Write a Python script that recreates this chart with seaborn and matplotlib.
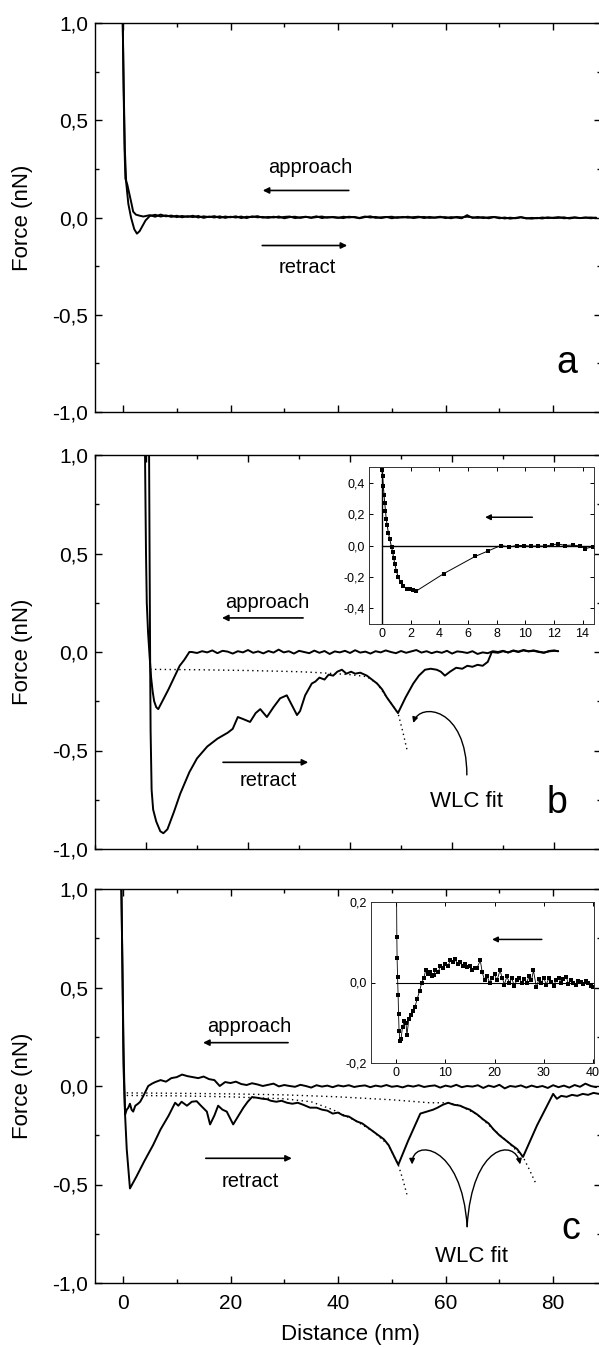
import matplotlib
matplotlib.use("Agg")
import matplotlib.pyplot as plt
import seaborn as sns
import numpy as np
from matplotlib.ticker import MultipleLocator, FixedLocator, FuncFormatter
from matplotlib.patches import FancyArrowPatch
from matplotlib.path import Path

sns.set_theme(style="ticks")
plt.rcParams['font.family'] = ['Liberation Sans', 'DejaVu Sans']
plt.rcParams['axes.edgecolor'] = 'black'
plt.rcParams['axes.labelcolor'] = 'black'
plt.rcParams['text.color'] = 'black'
plt.rcParams['xtick.color'] = 'black'
plt.rcParams['ytick.color'] = 'black'

# ---------------- panel a ----------------
a_app_x = [-0.05, 0.1, 0.3, 0.45, 0.8, 1.2, 1.6, 1.9, 2.4, 3.0, 3.8]
a_app_y = [1.02, 0.7, 0.35, 0.2, 0.17, 0.12, 0.07, 0.03, 0.015, 0.01, 0.005]
a_ret_x = [-0.05, 0.15, 0.35, 0.6, 1.0, 1.5, 2.1, 2.6, 3.1, 3.6, 4.2]
a_ret_y = [1.02, 0.65, 0.35, 0.18, 0.07, 0.0, -0.06, -0.083, -0.07, -0.045, -0.015]
# noisy baseline, 1 nm steps from 5 nm
a_app_tail = [0.012, 0.004, 0.015, 0.006, 0.010, 0.002, 0.008, 0.003, 0.009, 0.000, 0.006, 0.002,
              0.007, -0.002, 0.005, 0.001, 0.006, -0.003, 0.004, 0.002, 0.007, -0.001, 0.003, 0.000,
              0.005, -0.004, 0.002, 0.004, -0.002, 0.003, 0.000, 0.006, -0.003, 0.002, 0.001, -0.002,
              0.004, 0.000, 0.003, -0.004, 0.002, 0.006, -0.002, 0.001, 0.003, -0.004, 0.002, 0.000,
              0.004, -0.003, 0.001, 0.003, -0.002, 0.000, 0.004, -0.003, 0.002, 0.000, -0.004, 0.012,
              -0.002, 0.003, -0.003, 0.001, 0.003, -0.004, 0.000, -0.006, -0.002, 0.002, -0.005, -0.002,
              -0.004, 0.000, -0.003, -0.001, 0.002, -0.004, -0.002, 0.001, -0.003, -0.001, 0.000, -0.002]
a_ret_tail = [0.008, 0.014, 0.005, 0.011, 0.003, 0.009, 0.001, 0.007, 0.002, 0.008, -0.002, 0.005,
              0.000, 0.006, -0.002, 0.004, 0.000, 0.005, -0.003, 0.006, 0.001, 0.003, -0.002, 0.004,
              -0.001, 0.003, 0.005, -0.003, 0.001, 0.004, -0.002, 0.002, 0.005, -0.001, 0.003, 0.000,
              -0.003, 0.004, 0.001, -0.002, 0.005, 0.000, 0.003, -0.003, 0.002, 0.004, -0.002, 0.003,
              -0.001, 0.002, 0.004, -0.003, 0.003, -0.001, 0.001, 0.002, -0.004, 0.003, 0.001, 0.004,
              0.001, -0.002, 0.002, -0.004, 0.002, 0.000, -0.005, -0.001, -0.004, 0.001, -0.003, -0.006,
              -0.002, -0.005, 0.001, -0.003, -0.002, 0.001, -0.005, -0.001, -0.003, 0.000, -0.004, -0.001]

# ---------------- panel b ----------------
b_app_x = [-0.2, -0.1, 0.0, 0.15, 0.4, 0.7, 1.0, 1.3, 1.6, 2.0, 2.4, 4.4, 6.6, 7.5, 8.5]
b_app_y = [1.02, 0.75, 0.5, 0.25, 0.1, -0.02, -0.13, -0.2, -0.25, -0.28, -0.29, -0.19, -0.07, -0.04, 0.0]
# 1 nm steps from 9 nm
b_app_tail = [0.000, -0.005, 0.004, -0.002, 0.008, -0.006, 0.006, 0.002, -0.008, 0.004, -0.002, 0.010,
              -0.004, 0.003, -0.007, 0.005, -0.003, 0.012, -0.002, 0.004, -0.008, 0.006, 0.000, -0.006,
              0.007, -0.004, 0.005, -0.010, 0.003, -0.002, 0.006, -0.005, 0.009, -0.003, 0.002, -0.008,
              0.004, -0.002, 0.008, 0.000, -0.006, 0.005, -0.004, 0.003, 0.010, -0.003, 0.004, -0.006,
              0.002, -0.004, 0.006, -0.008, 0.003, 0.000, -0.005, 0.004, -0.010, -0.002, -0.006, 0.004,
              0.000, 0.006, -0.003, 0.008, 0.002, 0.010, 0.004, 0.008, 0.002, -0.004, 0.005, 0.008]
b_ret_x = [0.6, 0.7, 0.8, 0.9, 1.1, 1.4, 2.0, 2.8, 3.4, 4.2,
           5.5, 6.7, 8.5, 10.0, 12.0, 14.0, 16.0, 17.0, 18.0, 19.0,
           20.4, 21.5, 22.4, 23.7, 25.0, 26.3, 27.6, 28.6, 29.6, 30.2,
           31.2, 32.5, 33.2, 34.0, 35.0, 35.8, 36.7, 37.5, 38.4, 39.3,
           40.2, 41.0, 42.0, 43.3, 44.3, 45.3, 46.3, 47.2, 48.3, 49.4,
           50.9, 52.4, 53.5, 54.7, 55.8, 57.0, 57.8, 58.6, 59.6, 60.8,
           62.0, 63.0, 64.0, 65.0, 66.0, 67.0, 67.8, 69.0, 70.0, 71.0,
           72.0, 73.0, 74.0, 75.0, 76.0, 77.0, 78.0, 79.0, 80.0, 80.8]
b_ret_y = [1.02, 0.5, 0.0, -0.4, -0.7, -0.8, -0.86, -0.91, -0.92, -0.9,
           -0.81, -0.72, -0.61, -0.54, -0.48, -0.44, -0.41, -0.39, -0.33, -0.34,
           -0.355, -0.31, -0.29, -0.33, -0.28, -0.235, -0.22, -0.27, -0.32, -0.3,
           -0.22, -0.16, -0.15, -0.13, -0.14, -0.115, -0.12, -0.1, -0.09, -0.11,
           -0.1, -0.11, -0.105, -0.12, -0.14, -0.16, -0.19, -0.23, -0.27, -0.31,
           -0.23, -0.16, -0.12, -0.09, -0.085, -0.09, -0.1, -0.12, -0.1, -0.08,
           -0.085, -0.07, -0.075, -0.065, -0.07, -0.05, 0.0, -0.004, 0.004, -0.002,
           0.006, 0.0, 0.008, 0.003, 0.006, 0.0, -0.003, 0.003, 0.006, 0.004]
b_fit_x = [0.8, 5, 10, 15, 20, 25, 30, 34, 37, 40, 43.3, 45.3, 47.2, 49.4, 50.3, 51.2]
b_fit_y = [-0.088, -0.089, -0.09, -0.092, -0.094, -0.097, -0.10, -0.105, -0.11, -0.115,
           -0.125, -0.16, -0.23, -0.31, -0.40, -0.50]

# inset b
ib_x = [0.0, 0.05, 0.1, 0.15, 0.2, 0.25, 0.3, 0.37, 0.45, 0.55,
        0.67, 0.75, 0.82, 0.9, 1.0, 1.14, 1.3, 1.5, 1.75, 1.95,
        2.15, 2.4, 4.3, 6.5, 7.4, 8.3, 8.9, 9.4, 9.9, 10.4,
        10.9, 11.4, 11.9, 12.3, 12.8, 13.3, 13.8, 14.2, 14.7]
ib_y = [0.48, 0.44, 0.38, 0.32, 0.27, 0.22, 0.17, 0.13, 0.08, 0.04,
        -0.01, -0.04, -0.08, -0.115, -0.16, -0.2, -0.235, -0.26, -0.275, -0.28,
        -0.283, -0.29, -0.18, -0.07, -0.035, 0.0, -0.01, 0.0, 0.0, -0.005,
        -0.003, -0.005, 0.005, 0.01, 0.0, 0.003, -0.003, -0.02, -0.008]

# ---------------- panel c ----------------
c_app_x = [-0.3, -0.1, 0.1, 0.3, 0.4, 0.7, 1.0, 1.3, 1.6, 1.9, 2.3, 2.8, 3.2, 3.8, 4.7, 5.4]
c_app_y = [1.02, 0.6, 0.2, -0.05, -0.145, -0.12, -0.11, -0.09, -0.12, -0.13, -0.1, -0.09, -0.08, -0.05, 0.0, 0.012]
# 1 nm steps from 6 nm
c_app_tail = [0.02, 0.03, 0.022, 0.04, 0.045, 0.058, 0.05, 0.045, 0.04, 0.048, 0.035, 0.03,
              0.0, 0.02, 0.015, 0.022, 0.01, 0.005, 0.014, 0.008, 0.0, 0.006, 0.012, -0.002,
              0.005, 0.0, -0.004, 0.006, 0.0, -0.008, 0.004, -0.003, 0.002, -0.006, 0.003, -0.002,
              0.004, -0.005, 0.0, 0.003, -0.006, 0.002, -0.003, 0.005, -0.004, 0.0, -0.007, 0.002,
              -0.003, 0.004, -0.005, 0.0, 0.003, -0.008, 0.002, -0.004, 0.006, -0.006, 0.0, -0.003,
              0.004, -0.01, 0.002, -0.005, 0.006, -0.012, 0.0, -0.004, 0.003, -0.008, 0.002, -0.006,
              0.0, -0.01, 0.004, -0.006, 0.002, -0.008, 0.005, -0.004, 0.012, 0.0, -0.006]
c_ret_x = [-0.3, -0.1, 0.1, 0.4, 0.7, 1.0, 1.3, 2.5, 4.0, 5.6,
           7.0, 8.5, 9.7, 10.3, 10.9, 11.9, 12.8, 13.7, 14.5, 15.6,
           16.2, 17.0, 17.7, 18.5, 19.3, 20.5, 21.5, 22.4, 23.2, 24.0,
           25.0, 26.0, 26.8, 27.5, 28.5, 29.5, 30.5, 31.5, 32.5, 33.5,
           34.8, 36.0, 37.0, 38.0, 39.0, 40.0, 41.0, 42.0, 43.5, 44.5,
           45.5, 46.5, 47.5, 48.5, 49.4, 50.3, 51.2, 53.0, 55.3, 56.5,
           57.7, 58.5, 59.5, 60.5, 61.5, 62.7, 63.5, 64.5, 65.9, 67.0,
           68.0, 68.9, 70.0, 71.4, 72.3, 73.3, 74.4, 77.0, 80.0, 80.7,
           81.5, 82.5, 83.5, 84.5, 85.5, 86.5, 87.5, 88.5]
c_ret_y = [1.02, 0.6, 0.1, -0.15, -0.32, -0.42, -0.52, -0.46, -0.38, -0.3,
           -0.22, -0.15, -0.085, -0.1, -0.08, -0.1, -0.08, -0.077, -0.1, -0.13,
           -0.195, -0.15, -0.1, -0.12, -0.13, -0.195, -0.15, -0.11, -0.08, -0.056,
           -0.06, -0.065, -0.067, -0.075, -0.08, -0.075, -0.085, -0.09, -0.085, -0.095,
           -0.11, -0.11, -0.12, -0.125, -0.14, -0.135, -0.15, -0.155, -0.18, -0.19,
           -0.21, -0.23, -0.25, -0.27, -0.3, -0.35, -0.4, -0.28, -0.14, -0.13,
           -0.12, -0.11, -0.095, -0.085, -0.095, -0.1, -0.11, -0.12, -0.145, -0.17,
           -0.19, -0.22, -0.25, -0.28, -0.3, -0.32, -0.36, -0.2, -0.04, -0.065,
           -0.05, -0.055, -0.045, -0.05, -0.04, -0.045, -0.035, -0.04]
c_fit1_x = [0.7, 10, 20, 30, 35, 39, 43.5, 46.5, 49.4, 51.2, 52.0, 52.8]
c_fit1_y = [-0.048, -0.05, -0.055, -0.065, -0.08, -0.12, -0.18, -0.23, -0.30, -0.40, -0.47, -0.55]
c_fit2_x = [0.7, 10, 20, 30, 40, 50, 57, 60.5, 62.7, 65.9, 68.9, 71.4, 74.4, 75.5, 76.7]
c_fit2_y = [-0.035, -0.037, -0.04, -0.045, -0.055, -0.07, -0.085, -0.085, -0.1, -0.145,
            -0.22, -0.28, -0.36, -0.42, -0.49]

# inset c
ic_x = [0.1, 0.15, 0.2, 0.3, 0.4, 0.5, 0.6, 0.8, 1.0, 1.3,
        1.7, 2.0, 2.2, 2.6, 3.0, 3.4, 3.85, 4.3, 4.8, 5.2,
        5.6, 6.0, 6.4, 6.8, 7.2, 7.6, 8.0, 8.5, 9.0, 9.5,
        10, 10.5, 11, 11.5, 12, 12.5, 13, 13.5, 14, 14.5,
        15, 15.5, 16, 16.4, 17.1, 17.5, 18, 18.5, 19, 19.5,
        20, 20.5, 21.1, 21.6, 22, 22.5, 23, 23.5, 24, 24.5,
        25, 25.5, 26, 26.5, 27, 27.5, 27.9, 28.5, 29, 29.5,
        30, 30.5, 31, 31.5, 32, 32.5, 33, 33.5, 34, 34.6,
        35, 35.5, 36, 36.5, 37, 37.5, 38, 38.5, 39, 39.5, 39.9]
ic_y = [0.205, 0.113, 0.06, 0.013, -0.03, -0.078, -0.12, -0.145, -0.14, -0.11,
        -0.095, -0.1, -0.13, -0.09, -0.08, -0.07, -0.06, -0.04, -0.02, 0.0,
        0.01, 0.03, 0.02, 0.025, 0.015, 0.018, 0.03, 0.025, 0.04, 0.035,
        0.045, 0.04, 0.055, 0.05, 0.058, 0.045, 0.05, 0.04, 0.045, 0.038,
        0.042, 0.03, 0.035, 0.035, 0.055, 0.025, 0.005, 0.015, 0.0, 0.01,
        0.02, 0.005, 0.03, 0.01, -0.005, 0.015, 0.0, 0.01, -0.008, 0.005,
        0.012, -0.002, 0.008, 0.0, 0.015, 0.005, 0.03, -0.012, 0.008, 0.0,
        0.012, -0.005, 0.01, 0.002, -0.008, 0.006, 0.012, 0.0, 0.008, 0.013,
        -0.004, 0.006, 0.0, -0.006, 0.004, 0.002, -0.004, 0.003, -0.002, -0.008, -0.012]

y_ticks = [-1.0, -0.5, 0.0, 0.5, 1.0]
y_ticklabels = ['-1,0', '-0,5', '0,0', '0,5', '1,0']
x_ticks = [0, 20, 40, 60, 80]


def trace(ax, x, y, lw=1.4, ls='-'):
    sns.lineplot(x=x, y=y, ax=ax, color='black', lw=lw, linestyle=ls,
                 sort=False, estimator=None)


def arrow(ax, tail, head, lw=1.2, ms=9):
    ax.annotate('', xy=head, xytext=tail,
                arrowprops=dict(arrowstyle='-|>', color='black', lw=lw,
                                mutation_scale=ms, shrinkA=0, shrinkB=0))


def curved_arrow(ax, pts):
    path = Path(pts, [Path.MOVETO, Path.CURVE4, Path.CURVE4, Path.CURVE4])
    ax.add_patch(FancyArrowPatch(path=path, arrowstyle='-|>', mutation_scale=8,
                                 lw=1.0, color='black', transform=ax.transData))


def style_main(ax, xlim, show_x):
    ax.set_xlim(*xlim)
    ax.set_ylim(-1, 1)
    ax.yaxis.set_major_locator(FixedLocator(y_ticks))
    ax.set_yticklabels(y_ticklabels)
    ax.yaxis.set_minor_locator(MultipleLocator(0.25))
    ax.xaxis.set_major_locator(FixedLocator(x_ticks))
    ax.xaxis.set_minor_locator(MultipleLocator(10))
    ax.tick_params(which='both', direction='in', top=True, right=True, width=1.0)
    ax.tick_params(which='major', length=5)
    ax.tick_params(which='minor', length=3)
    ax.tick_params(axis='y', labelsize=15, pad=5)
    ax.tick_params(axis='x', labelsize=15, pad=8, labelbottom=show_x)
    for s in ax.spines.values():
        s.set_linewidth(1.0)
    ax.set_ylabel('Force (nN)', fontsize=16)
    ax.yaxis.set_label_coords(-0.123, 0.5)


def style_inset(ax, xlim, ylim, xt, yt):
    ax.set_xlim(*xlim)
    ax.set_ylim(*ylim)
    ax.set_xticks(xt)
    ax.set_yticks(yt)
    ax.xaxis.set_major_formatter(FuncFormatter(lambda v, p: f'{v:.0f}'))
    ax.yaxis.set_major_formatter(
        FuncFormatter(lambda v, p: f'{v:.1f}'.replace('.', ',').replace('-0,0', '0,0')))
    ax.tick_params(direction='in', top=True, right=True, length=3, width=0.7,
                   labelsize=9, pad=3)
    for s in ax.spines.values():
        s.set_linewidth(0.7)
        s.set_color('#333333')


fig = plt.figure(figsize=(5.99, 13.47), dpi=100)
ax_a = fig.add_axes([95 / 599, 935 / 1347, 506 / 599, 389 / 1347])
ax_b = fig.add_axes([95 / 599, 498 / 1347, 506 / 599, 394 / 1347])
ax_c = fig.add_axes([95 / 599, 64 / 1347, 506 / 599, 394 / 1347])

# ---- a ----
tail_a = list(np.arange(len(a_app_tail)) + 5)
trace(ax_a, a_app_x + tail_a, a_app_y + a_app_tail)
trace(ax_a, a_ret_x + tail_a, a_ret_y + a_ret_tail)
style_main(ax_a, (-5.2, 88.9), False)
ax_a.text(34.8, 0.255, 'approach', fontsize=14.5, ha='center', va='center')
arrow(ax_a, (42.0, 0.139), (26.0, 0.139))
ax_a.text(34.3, -0.257, 'retract', fontsize=14.5, ha='center', va='center')
arrow(ax_a, (25.9, -0.144), (41.7, -0.144))
ax_a.text(82.6, -0.797, 'a', fontsize=27, ha='center', va='baseline')

# ---- b ----
tail_b = list(np.arange(len(b_app_tail)) + 9)
trace(ax_b, b_app_x + tail_b + [80.8], b_app_y + b_app_tail + [0.004])
trace(ax_b, b_ret_x, b_ret_y)
trace(ax_b, b_fit_x, b_fit_y, lw=1.0, ls=(0, (1, 2.5)))
style_main(ax_b, (-10.0, 89.2), False)
ax_b.text(23.7, 0.25, 'approach', fontsize=14.5, ha='center', va='center')
arrow(ax_b, (30.8, 0.173), (14.9, 0.173))
ax_b.text(23.9, -0.65, 'retract', fontsize=14.5, ha='center', va='center')
arrow(ax_b, (15.1, -0.56), (31.8, -0.56))
ax_b.text(62.9, -0.76, 'WLC fit', fontsize=16, ha='center', va='center')
curved_arrow(ax_b, [(62.9, -0.624), (62.9, -0.279), (53.7, -0.254), (52.4, -0.36)])
ax_b.text(80.6, -0.817, 'b', fontsize=27, ha='center', va='baseline')

ins_b = fig.add_axes([369 / 599, 723 / 1347, 225 / 599, 157 / 1347])
ins_b.axhline(0, xmin=(0 + 0.9) / 15.7, color='black', lw=1.0)
ins_b.axvline(0, color='black', lw=1.0)
sns.lineplot(x=ib_x, y=ib_y, ax=ins_b, color='black', lw=0.7, marker='s',
             markersize=3, markeredgewidth=0, sort=False, estimator=None)
style_inset(ins_b, (-0.9, 14.8), (-0.5, 0.5), [0, 2, 4, 6, 8, 10, 12, 14],
            [-0.4, -0.2, 0.0, 0.2, 0.4])
arrow(ins_b, (10.5, 0.18), (7.2, 0.18), lw=1.1, ms=8)

# ---- c ----
tail_c = list(np.arange(len(c_app_tail)) + 6)
trace(ax_c, c_app_x + tail_c, c_app_y + c_app_tail)
trace(ax_c, c_ret_x, c_ret_y)
trace(ax_c, c_fit1_x, c_fit1_y, lw=1.0, ls=(0, (1, 2.5)))
trace(ax_c, c_fit2_x, c_fit2_y, lw=1.0, ls=(0, (1, 2.5)))
style_main(ax_c, (-5.2, 88.9), True)
ax_c.set_xlabel('Distance (nm)', fontsize=16)
ax_c.xaxis.set_label_coords(0.504, -0.104)
ax_c.text(23.4, 0.30, 'approach', fontsize=14.5, ha='center', va='center')
arrow(ax_c, (30.7, 0.22), (14.9, 0.22))
ax_c.text(23.6, -0.485, 'retract', fontsize=14.5, ha='center', va='center')
arrow(ax_c, (15.4, -0.367), (31.4, -0.367))
ax_c.text(64.9, -0.867, 'WLC fit', fontsize=16, ha='center', va='center')
curved_arrow(ax_c, [(64.0, -0.714), (63.07, -0.291), (53.77, -0.265), (53.77, -0.398)])
curved_arrow(ax_c, [(64.0, -0.714), (64.93, -0.291), (72.93, -0.265), (73.86, -0.398)])
ax_c.text(83.2, -0.776, 'c', fontsize=27, ha='center', va='baseline')

ins_c = fig.add_axes([371 / 599, 284 / 1347, 223 / 599, 161 / 1347])
ins_c.axhline(0, xmin=5.1 / 45.3, color='black', lw=0.8)
sns.lineplot(x=ic_x, y=ic_y, ax=ins_c, color='black', lw=0.6, marker='s',
             markersize=2.6, markeredgewidth=0, sort=False, estimator=None)
style_inset(ins_c, (-5.1, 40.2), (-0.2, 0.2), [0, 10, 20, 30, 40], [-0.2, 0.0, 0.2])
arrow(ins_c, (29.6, 0.107), (19.5, 0.107), lw=1.1, ms=8)

fig.savefig('out.png', dpi=100)
